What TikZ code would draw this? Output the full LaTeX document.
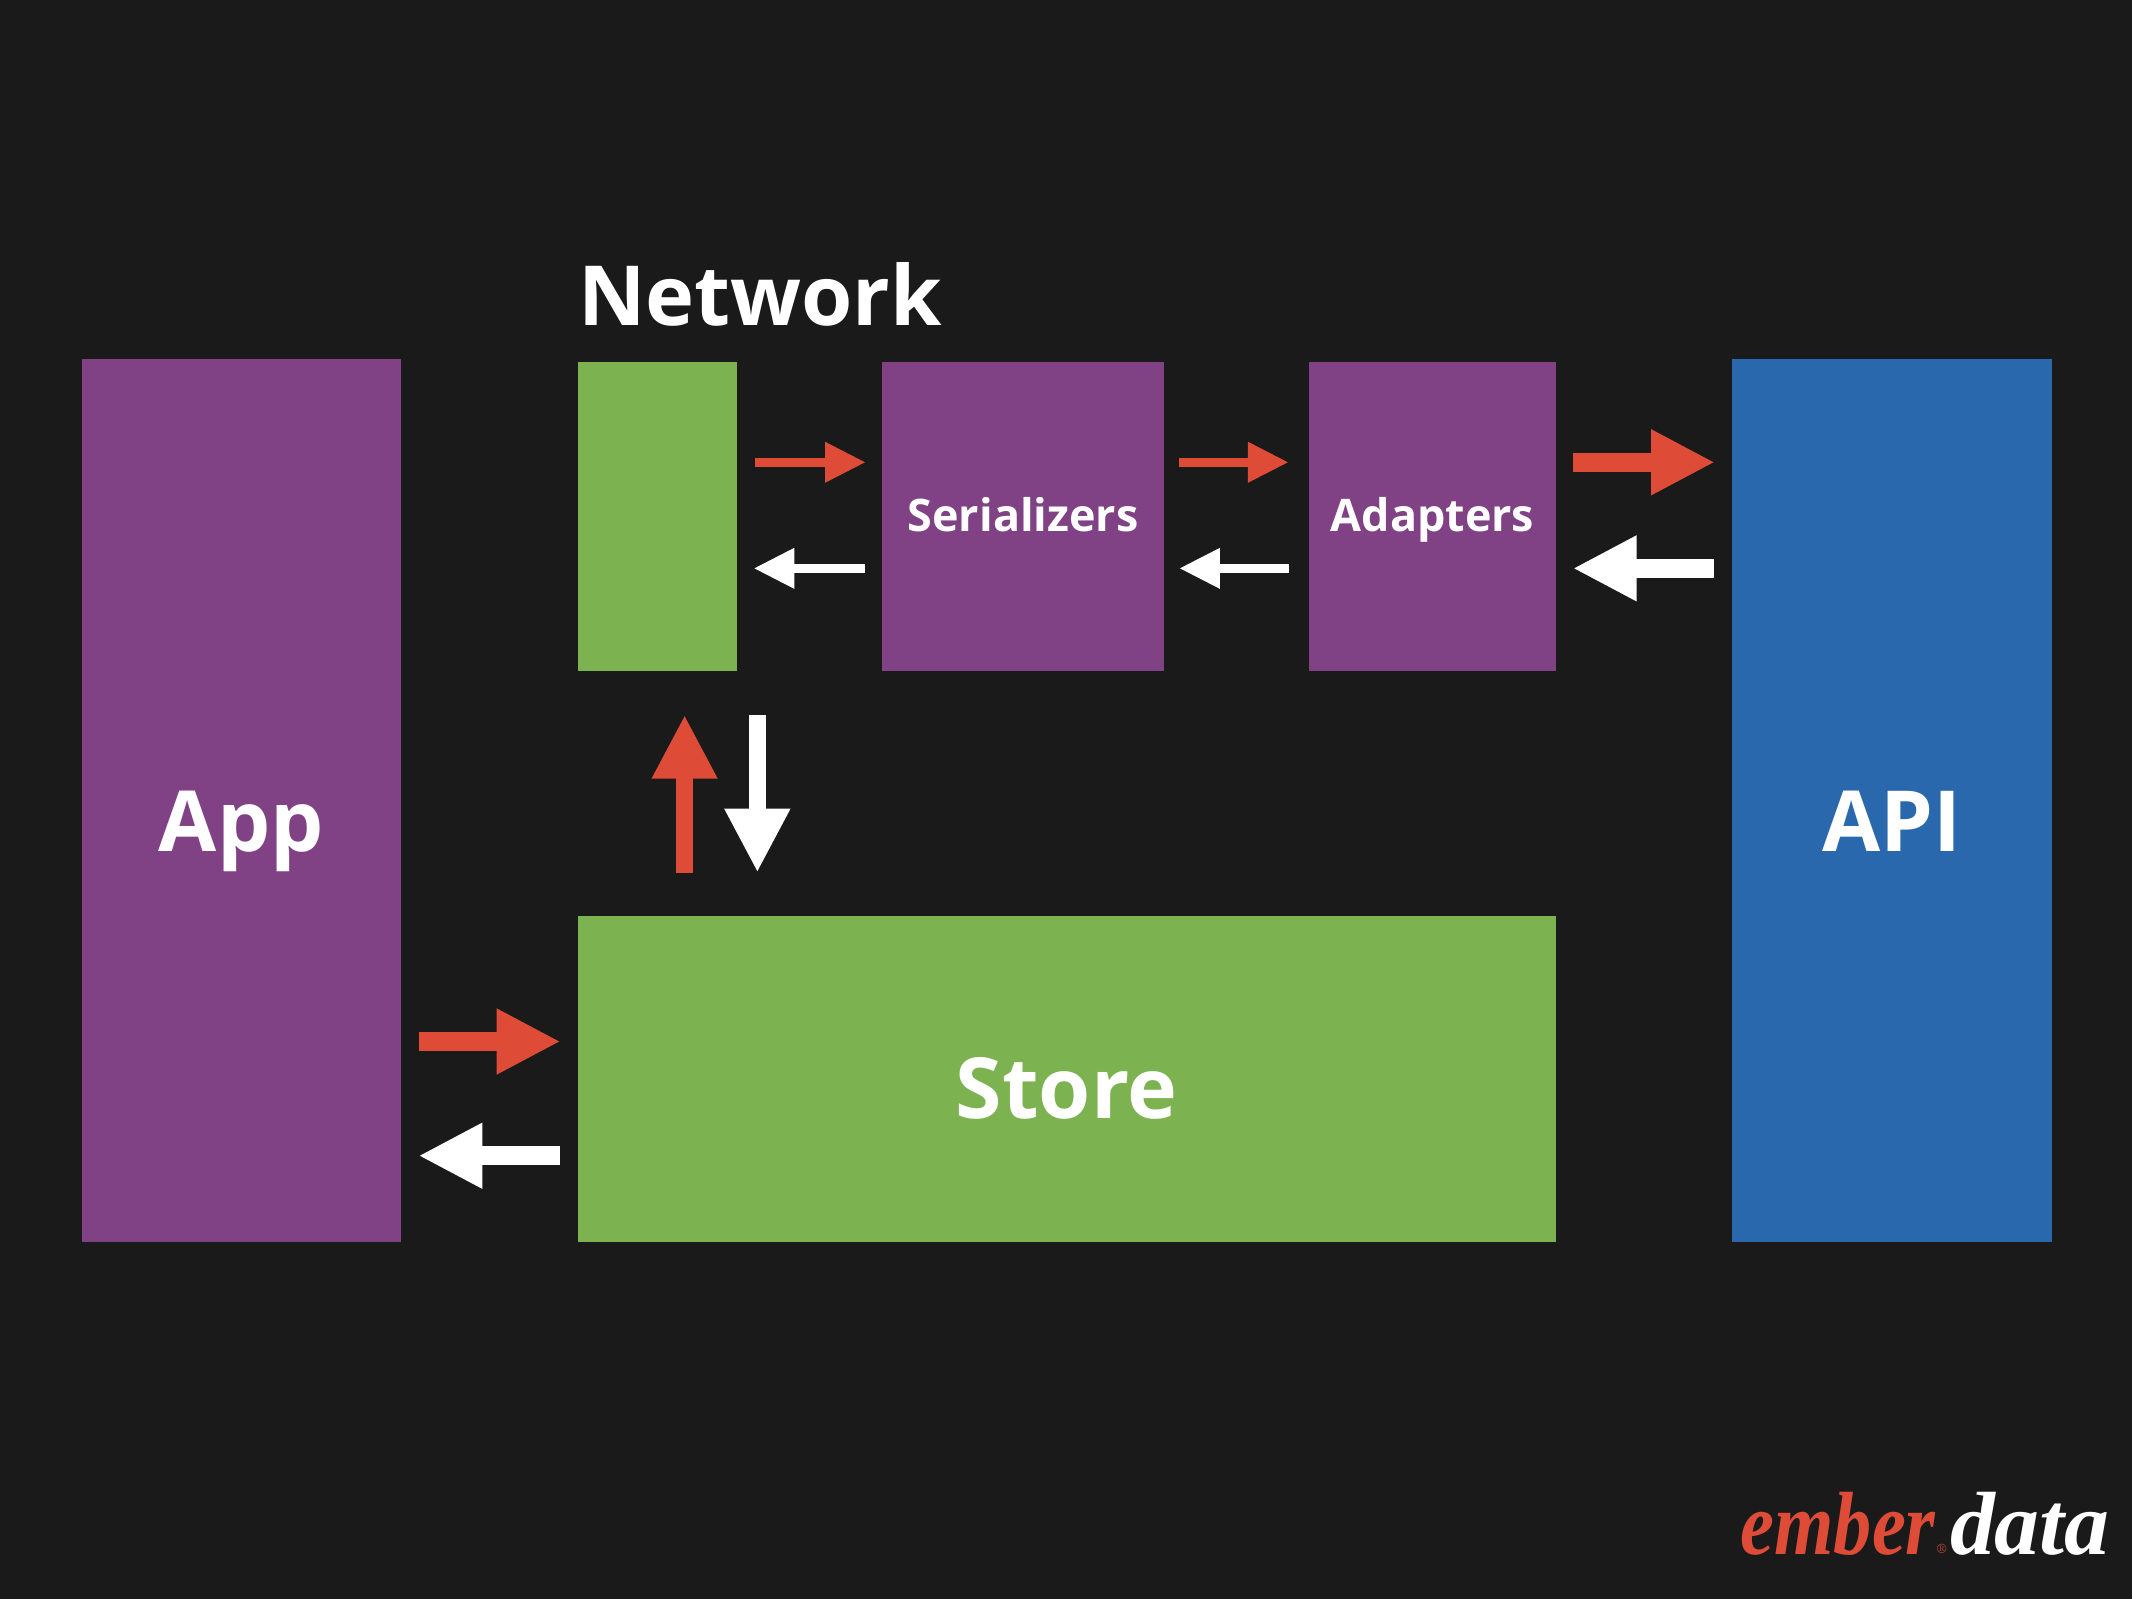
\documentclass[tikz,border=0pt]{standalone}
\usepackage{fontspec}
\setsansfont{Open Sans}
\newfontfamily\logofont{Liberation Serif}
\usetikzlibrary{arrows.meta}
\definecolor{bgdark}{HTML}{1A1A1A}
\definecolor{blockpurple}{HTML}{804285}
\definecolor{blockgreen}{HTML}{7CB350}
\definecolor{blockblue}{HTML}{2A68AE}
\definecolor{arrowred}{HTML}{DE4B36}
\tikzset{
  block/.style={draw=none,inner sep=0pt,text=white,font=\sffamily\bfseries},
  bigtext/.style={font=\fontsize{62bp}{62bp}\sffamily\bfseries,text depth=0pt},
  smalltext/.style={font=\fontsize{33bp}{33bp}\sffamily\bfseries,text height=23bp,text depth=0pt},
  logotext/.style={anchor=base west,inner sep=0pt,font=\fontsize{66bp}{66bp}\logofont\itshape\bfseries},
  thinflow/.style={line width=7bp,-{Triangle[length=30bp,width=28bp]},shorten <=13bp,shorten >=12bp},
  fatflow/.style={line width=14bp,-{Triangle[length=47bp,width=45bp]},shorten <=13bp,shorten >=12.5bp},
  upflow/.style={line width=12bp,-{Triangle[length=47bp,width=45bp]},shorten <=32bp,shorten >=32bp},
}
\begin{document}
\begin{tikzpicture}[line join=bevel,]
%%
\useasboundingbox (0bp,0bp) rectangle (1568bp,1176bp);
\fill [bgdark] (0bp,0bp) rectangle (1568bp,1176bp);
%
\node (node_app) at (177.5bp,587.25bp) [block,bigtext,fill=blockpurple,minimum width=235bp,minimum height=649.5bp,text height=75bp] {App};
  \node (node_api) at (1391.5bp,587.25bp) [block,bigtext,fill=blockblue,minimum width=235bp,minimum height=649.5bp,text height=75bp] {API};
  \node (node_network) at (483.5bp,796.25bp) [block,fill=blockgreen,minimum width=117bp,minimum height=227.5bp] {};
  \node (node_serializers) at (752.5bp,796.25bp) [block,smalltext,fill=blockpurple,minimum width=207bp,minimum height=227.5bp] {Serializers};
  \node (node_adapters) at (1053.5bp,796.25bp) [block,smalltext,fill=blockpurple,minimum width=181bp,minimum height=227.5bp] {Adapters};
  \node (node_store) at (784.5bp,382.25bp) [block,bigtext,fill=blockgreen,minimum width=719bp,minimum height=239.5bp,text height=57bp] {Store};
  \node (node_title) at (425bp,936.5bp) [anchor=base west,inner sep=0pt,text=white,font=\fontsize{61bp}{61bp}\sffamily\bfseries] {Network};
%
\coordinate (row_out) at (0bp,836bp);
  \coordinate (row_back) at (0bp,758bp);
  \coordinate (row_in) at (0bp,410bp);
  \coordinate (row_reply) at (0bp,326bp);
  \coordinate (col_up) at (503.5bp,0bp);
  \coordinate (col_down) at (557bp,0bp);
%
\draw [arrowred,thinflow] (node_network.east |- row_out) -- (node_serializers.west |- row_out);
  \draw [white,thinflow] (node_serializers.west |- row_back) -- (node_network.east |- row_back);
  \draw [arrowred,thinflow,shorten <=11bp,shorten >=15bp] (node_serializers.east |- row_out) -- (node_adapters.west |- row_out);
  \draw [white,thinflow,shorten <=15bp,shorten >=11bp] (node_adapters.west |- row_back) -- (node_serializers.east |- row_back);
  \draw [arrowred,fatflow] (node_adapters.east |- row_out) -- (node_api.west |- row_out);
  \draw [white,fatflow] (node_api.west |- row_back) -- (node_adapters.east |- row_back);
  \draw [arrowred,fatflow] (node_app.east |- row_in) -- (node_store.west |- row_in);
  \draw [white,fatflow] (node_store.west |- row_reply) -- (node_app.east |- row_reply);
  \draw [arrowred,upflow] (col_up |- node_store.north) -- (col_up |- node_network.south);
  \draw [white,upflow] (col_down |- node_network.south) -- (col_down |- node_store.north);
%
\node (node_ember) at (1280bp,33bp) [logotext,text=arrowred,xscale=.85,transform shape] {ember};
  \node (node_mark) at (1428bp,37bp) [inner sep=0pt,text=arrowred,font=\fontsize{10bp}{10bp}\selectfont] {®};
  \node (node_data) at (1434bp,33bp) [logotext,text=white] {data};
\end{tikzpicture}
\end{document}
